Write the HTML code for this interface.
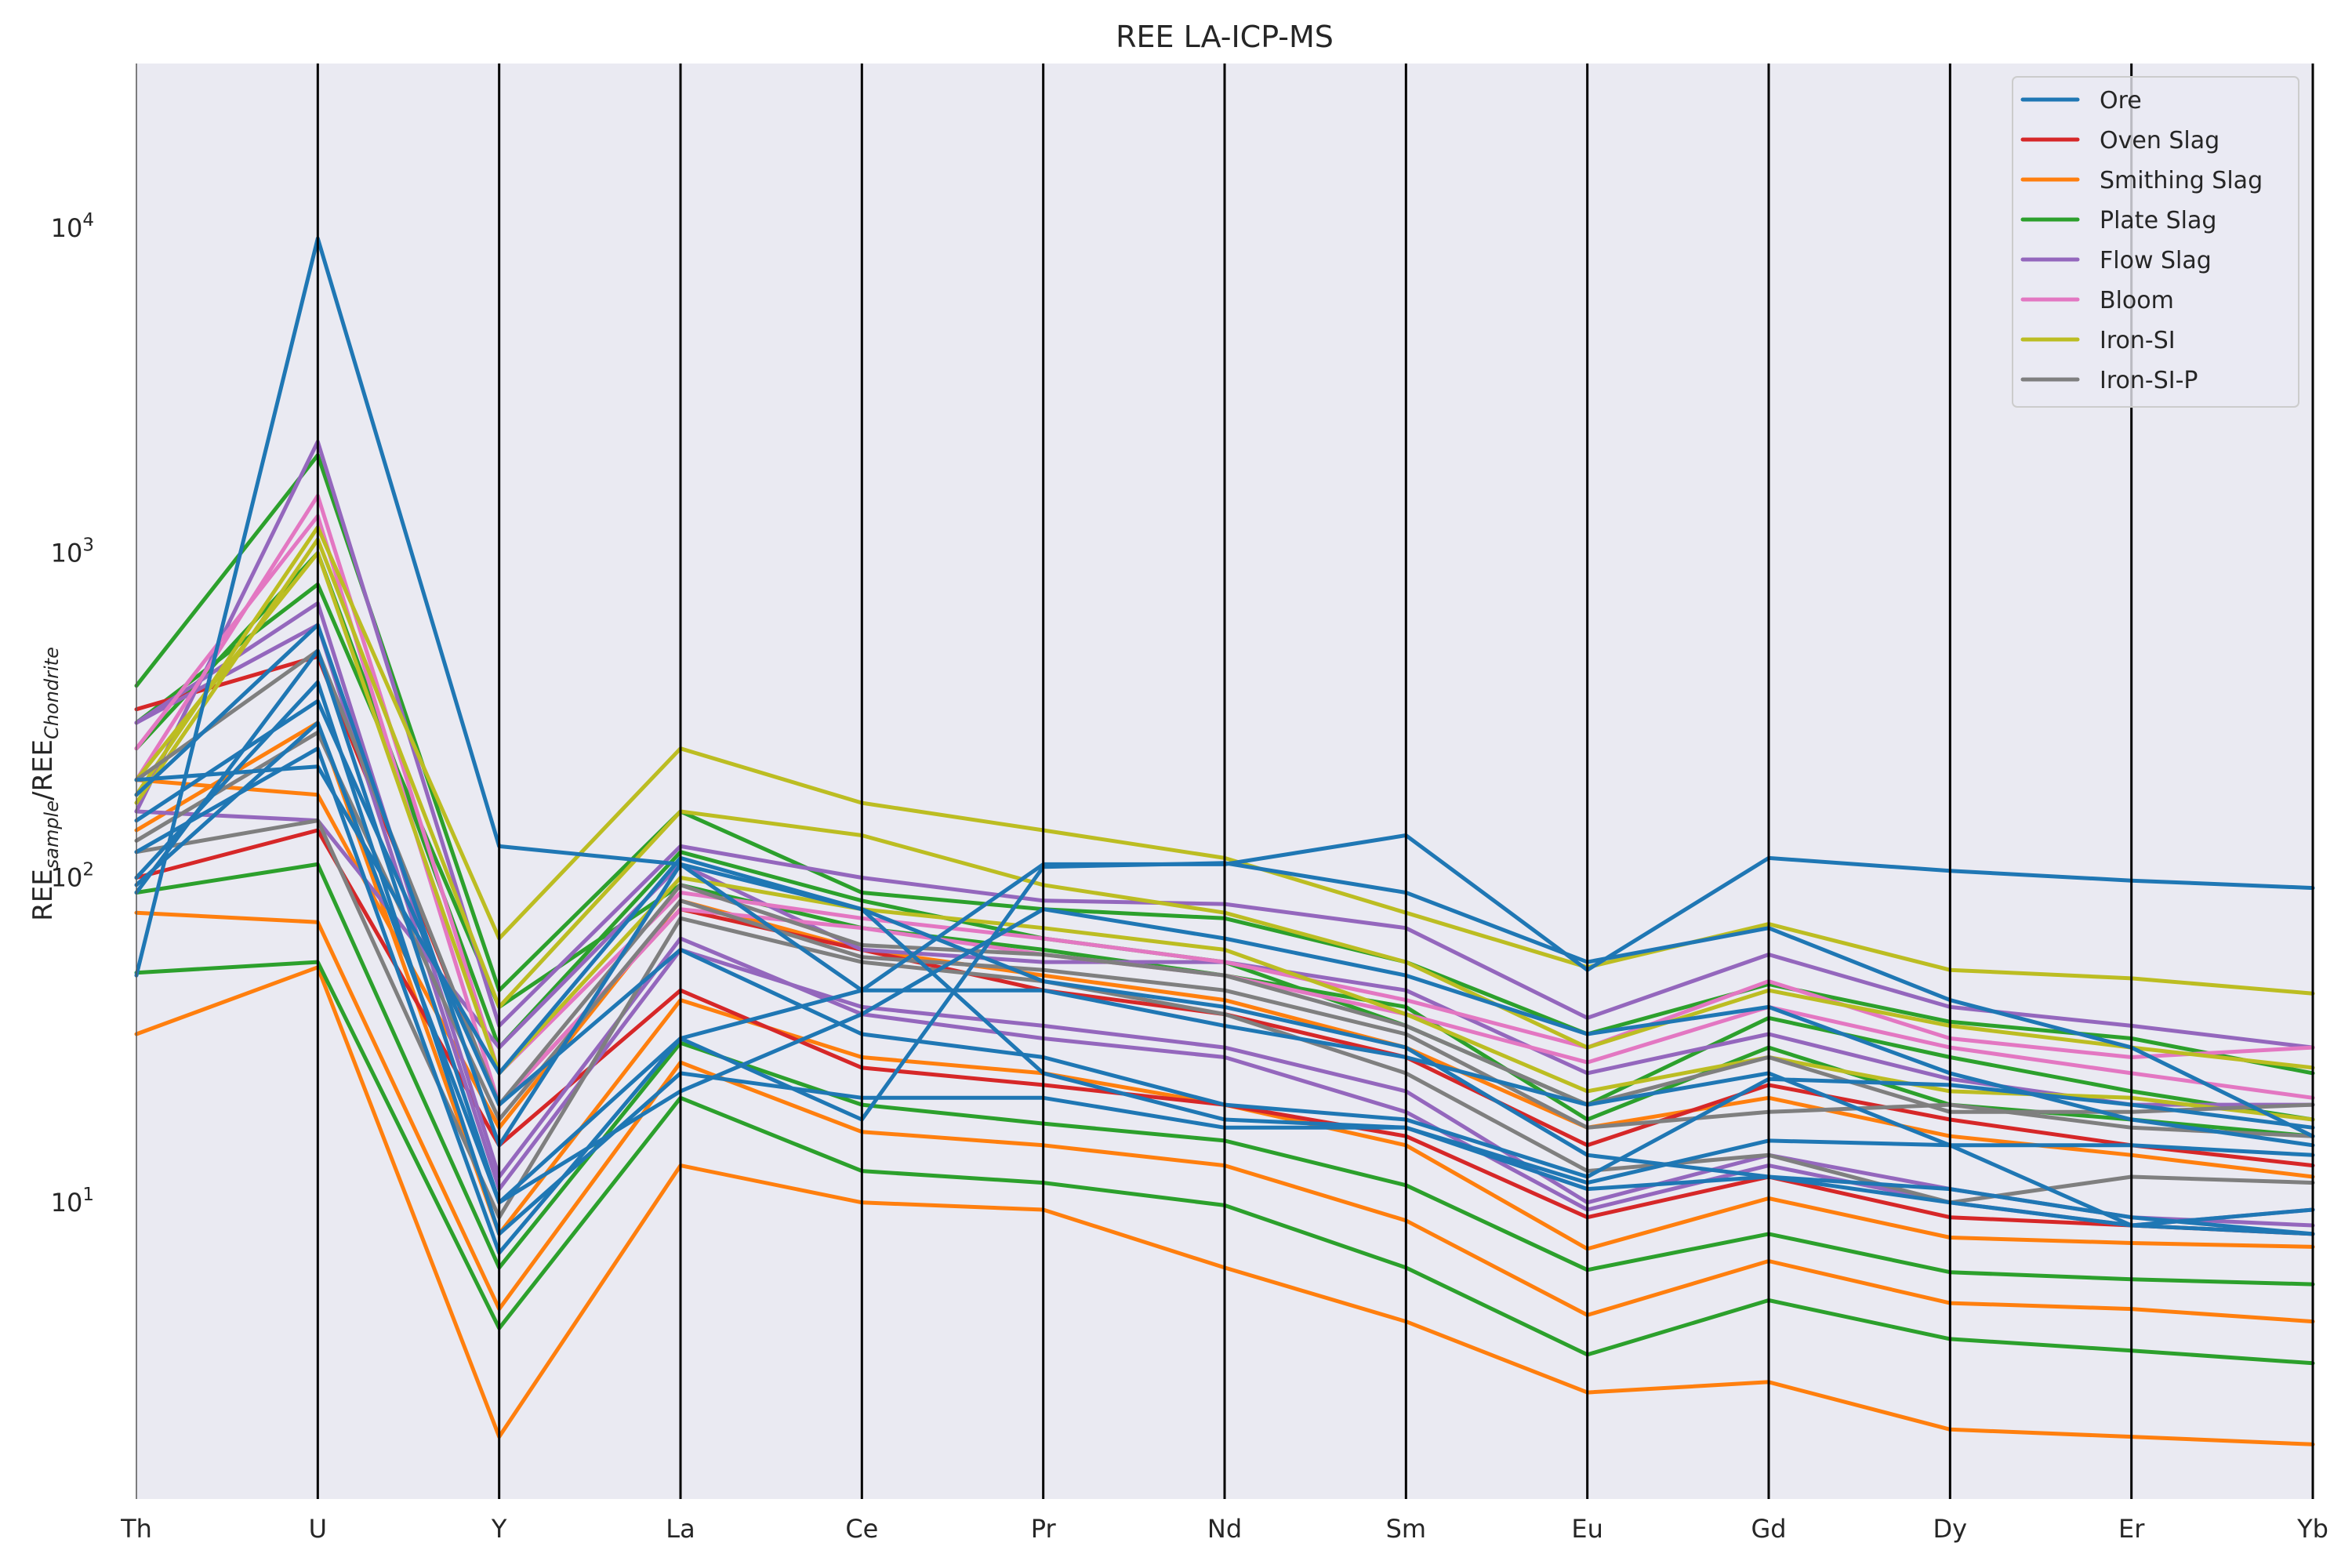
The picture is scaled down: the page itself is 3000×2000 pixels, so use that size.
<!DOCTYPE html>
<html><head><meta charset="utf-8"><style>
body{margin:0;background:#fff;}
svg{display:block;font-family:"DejaVu Sans","Liberation Sans",sans-serif;}
</style></head><body>
<svg id="chart" width="3000" height="2000" viewBox="0 0 3000 2000"></svg>
<script>
const categories=["Th","U","Y","La","Ce","Pr","Nd","Sm","Eu","Gd","Dy","Er","Yb"];
const groupNames=["Ore","Oven Slag","Smithing Slag","Plate Slag","Flow Slag","Bloom","Iron-SI","Iron-SI-P"];
const groupColors=["#1f77b4","#d62728","#ff7f0e","#2ca02c","#9467bd","#e377c2","#bcbd22","#7f7f7f"];
const smithingSlag=[
[33,53,1.9,13,10,9.5,6.3,4.3,2.6,2.8,2,1.9,1.8],
[78,73,4.7,27,16.5,15,13,8.8,4.5,6.6,4.9,4.7,4.3],
[140,300,8,42,28,25,20,15,7.2,10.3,7.8,7.5,7.3],
[200,180,17,85,60,50,42,30,17,21,16,14,12]];
const plateSlag=[
[51,55,4.1,21,12.5,11.5,9.8,6.3,3.4,5,3.8,3.5,3.2],
[90,110,6.3,31,20,17.5,15.5,11.3,6.2,8,6.1,5.8,5.6],
[390,2000,45,160,90,80,75,55,33,47,36,32,25],
[250,1000,30,120,85,65,55,35,20,37,28,22,18],
[300,800,40,95,70,60,50,40,18,30,20,18,16]];
const ovenSlag=[
[100,140,15,45,26,23,20,16,9,12,9,8.5,8],
[330,480,20,80,60,45,38,28,15,23,18,15,13]];
const flowSlag=[
[160,2200,35,125,100,85,83,70,37,58,40,35,30],
[300,600,11,60,40,35,30,22,10,14,11,9,8.5],
[160,150,30,110,60,55,55,45,25,33,24,20,20],
[300,700,12,65,38,32,28,19,9.5,13,10,8.5,9.5]];
const bloom=[
[200,1500,25,90,75,65,55,42,30,48,32,28,30],
[250,1300,20,80,70,58,50,38,27,40,30,25,21]];
const ironSI=[
[180,1200,65,250,170,140,115,78,53,72,52,49,44],
[170,1100,40,160,135,95,78,55,30,45,35,30,26],
[200,1000,25,100,80,70,60,38,22,28,22,21,18]];
const ironSIP=[
[120,150,9,75,55,48,38,25,12.5,14,10,12,11.5],
[130,280,18,85,57,52,45,33,17,19,20,17,16],
[200,500,20,95,62,58,50,35,20,28,19,19,20]];
const ore=[
[50,9300,125,110,80,25,18,17,11,12,10,8.5,8],
[90,500,10,32,45,110,110,135,52,115,105,98,93],
[100,400,8,25,21,21,17,17,11.5,15.5,15,15,14],
[180,600,15,110,45,45,35,28,20,25,15,8.5,9.5],
[150,350,20,60,33,28,20,18,12,24,23,20,17],
[120,250,7,32,18,108,111,90,55,70,42,30,16],
[200,220,25,115,80,48,40,30,14,12,11,9,8],
[95,300,10,22,38,80,65,50,33,40,25,18,15]];
const yTickExps=[1,2,3,4];

const NS="http://www.w3.org/2000/svg";
const svg=document.getElementById("chart");
const L=174,R=2950,T=81,B=1912;
const yTop=4.507,yBot=0.087;
function xPos(i){return L+(R-L)*i/(categories.length-1);}
function yPos(v){const l=Math.log10(v);return T+(yTop-l)/(yTop-yBot)*(B-T);}
function mk(tag,attrs,parent){const e=document.createElementNS(NS,tag);for(const k in attrs)e.setAttribute(k,attrs[k]);(parent||svg).appendChild(e);return e;}

const bg=mk("rect",{x:L,y:T,width:R-L,height:B-T,fill:"#eaeaf2"});



const title=mk("text",{x:(L+R)/2,y:60,"text-anchor":"middle","font-size":"38",fill:"#262626"});
title.textContent="REE LA-ICP-MS";



const yl=mk("text",{x:0,y:0,"text-anchor":"middle","font-size":"34",fill:"#262626",transform:"translate(66,1000) rotate(-90)"});
yl.innerHTML='REE<tspan font-size="24" font-style="italic" dy="8">sample</tspan><tspan dy="-8">/REE</tspan><tspan font-size="24" font-style="italic" dy="8">Chondrite</tspan>';



yTickExps.forEach(e=>{
  const y=yPos(Math.pow(10,e));
  const t=mk("text",{x:120,y:y+11,"text-anchor":"end","font-size":"32",fill:"#262626"});
  t.innerHTML='10<tspan font-size="23" dy="-14">'+e+'</tspan>';
  
  
});

const plotG=mk("g",{});


const order=[[smithingSlag,2],[plateSlag,3],[ovenSlag,1],[flowSlag,4],[bloom,5],[ironSI,6],[ironSIP,7],[ore,0]];
order.forEach(([rows,g])=>{
  rows.forEach((row,ri)=>{
    const pts=row.map((v,i)=>xPos(i).toFixed(1)+","+yPos(v).toFixed(1)).join(" ");
    const p=mk("polyline",{points:pts,fill:"none",stroke:groupColors[g],"stroke-width":"5","stroke-linejoin":"round","stroke-linecap":"round"},plotG);
    
    
  });
});

categories.forEach((c,i)=>{
  const x=xPos(i);
  const ln=mk("line",{x1:x,y1:T,x2:x,y2:B,stroke:i===0?"#555":"#000","stroke-width":i===0?"1.5":"3"});
  
  
  const t=mk("text",{x:x,y:1961,"text-anchor":"middle","font-size":"32",fill:"#262626"});
  t.textContent=c;
  
  
});

const lg=mk("g",{});


const lbox=mk("rect",{x:2567,y:98,width:365,height:421,rx:6,fill:"#eaeaf2","fill-opacity":"0.8",stroke:"#cccccc","stroke-width":"2"},lg);


groupNames.forEach((n,i)=>{
  const y=127+i*51;
  const e=mk("g",{},lg);
  
  
  mk("line",{x1:2580,y1:y,x2:2650,y2:y,stroke:groupColors[i],"stroke-width":"5","stroke-linecap":"round"},e);
  const t=mk("text",{x:2678,y:y+11,"font-size":"30",fill:"#262626"},e);
  t.textContent=n;
});
</script>
</body></html>
